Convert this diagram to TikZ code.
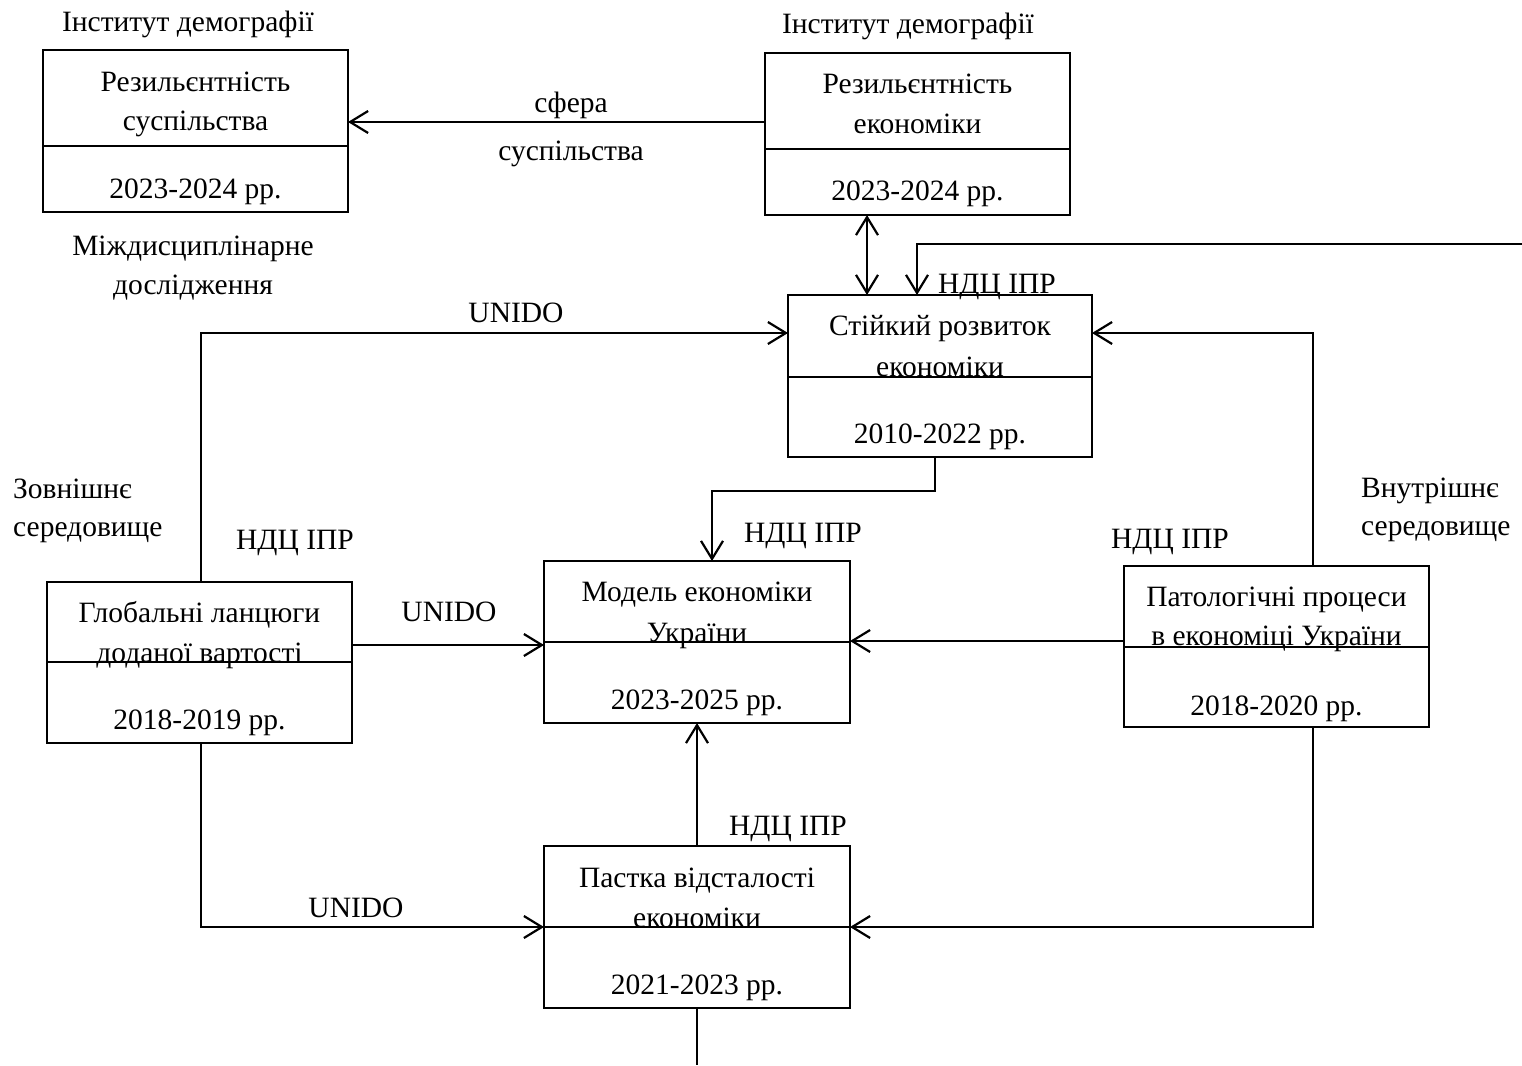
\documentclass[tikz,border=0pt]{standalone}
\usepackage{fontspec}
\setmainfont{Liberation Serif}
\usetikzlibrary{arrows.meta,calc}
\newcommand{\dgfs}{\fontsize{29.5}{35}\selectfont}
\begin{document}
\begin{tikzpicture}[x=1pt,y=-1pt,
  box/.style={draw, line width=1.4pt, inner sep=0pt, outer sep=0pt, anchor=north west},
  div/.style={line width=1.4pt},
  conn/.style={line width=2.2pt},
  arr/.style={conn, -{Straight Barb[length=18pt,width=22pt]}},
  darr/.style={conn, {Straight Barb[length=18pt,width=22pt]}-{Straight Barb[length=18pt,width=22pt]}},
  txt/.style={anchor=base, inner sep=0pt, font=\dgfs},
  ltxt/.style={anchor=base west, inner sep=0pt, font=\dgfs}]
\useasboundingbox (0,0) rectangle (1522,1065);

% boxes
\node[box, minimum width=305pt, minimum height=162pt] (b1) at (43,50) {};
\node[box, minimum width=305pt, minimum height=162pt] (b2) at (765,53) {};
\node[box, minimum width=304pt, minimum height=162pt] (b3) at (788,295) {};
\node[box, minimum width=306pt, minimum height=162pt] (b4) at (544,561) {};
\node[box, minimum width=305pt, minimum height=161pt] (b5) at (47,582) {};
\node[box, minimum width=305pt, minimum height=161pt] (b6) at (1124,566) {};
\node[box, minimum width=306pt, minimum height=162pt] (b7) at (544,846) {};

% dividers
\draw[div] ($(b1.north west)+(0,96)$) -- ($(b1.north east)+(0,96)$);
\draw[div] ($(b2.north west)+(0,96)$) -- ($(b2.north east)+(0,96)$);
\draw[div] ($(b3.north west)+(0,82)$) -- ($(b3.north east)+(0,82)$);
\draw[div] ($(b4.north west)+(0,81)$) -- ($(b4.north east)+(0,81)$);
\draw[div] ($(b5.north west)+(0,80)$) -- ($(b5.north east)+(0,80)$);
\draw[div] ($(b6.north west)+(0,81)$) -- ($(b6.north east)+(0,81)$);
\draw[div] ($(b7.north west)+(0,81)$) -- ($(b7.north east)+(0,81)$);

% box texts
\node[txt] (b1a) at (195.5,91) {Резильєнтність};
\node[txt] (b1b) at (195.5,130) {суспільства};
\node[txt] (b1c) at (195.5,198) {2023-2024 рр.};

\node[txt] (b2a) at (917.5,93) {Резильєнтність};
\node[txt] (b2b) at (917.5,133) {економіки};
\node[txt] (b2c) at (917.5,200) {2023-2024 рр.};

\node[txt] (b3a) at (940,335) {Стійкий розвиток};
\node[txt] (b3b) at (940,376) {економіки};
\node[txt] (b3c) at (940,443) {2010-2022 рр.};

\node[txt] (b4a) at (697,601) {Модель економіки};
\node[txt] (b4b) at (697,642) {України};
\node[txt] (b4c) at (697,709) {2023-2025 рр.};

\node[txt] (b5a) at (199.5,622) {Глобальні ланцюги};
\node[txt] (b5b) at (199.5,662) {доданої вартості};
\node[txt] (b5c) at (199.5,729) {2018-2019 рр.};

\node[txt] (b6a) at (1276.5,606) {Патологічні процеси};
\node[txt] (b6b) at (1276.5,645) {в економіці України};
\node[txt] (b6c) at (1276.5,715) {2018-2020 рр.};

\node[txt] (b7a) at (697,887) {Пастка відсталості};
\node[txt] (b7b) at (697,927) {економіки};
\node[txt] (b7c) at (697,994) {2021-2023 рр.};

% free labels
\node[txt] (l1) at (188,32) {Інститут демографії};
\node[txt] (l2) at (908,34) {Інститут демографії};
\node[txt] (l3) at (571,112) {сфера};
\node[txt] (l4) at (571,160) {суспільства};
\node[txt] (l5) at (193,255) {Міждисциплінарне};
\node[txt] (l6) at (193,294) {дослідження};
\node[txt] (l7) at (516,322) {UNIDO};
\node[txt] (l8) at (997,293) {НДЦ ІПР};
\node[ltxt] (l9) at (13,498) {Зовнішнє};
\node[ltxt] (l10) at (13,536) {середовище};
\node[txt] (l11) at (295,549) {НДЦ ІПР};
\node[txt] (l12) at (803,542) {НДЦ ІПР};
\node[txt] (l13) at (1170,548) {НДЦ ІПР};
\node[ltxt] (l14) at (1361,497) {Внутрішнє};
\node[ltxt] (l15) at (1361,535) {середовище};
\node[txt] (l16) at (449,621) {UNIDO};
\node[txt] (l17) at (788,835) {НДЦ ІПР};
\node[txt] (l18) at (356,917) {UNIDO};

% connectors
\coordinate (edge) at (1522,244);
\coordinate (bot) at (697,1065);
\draw[arr] ($(b2.north west)+(0,69)$) -- ($(b1.north east)+(0,72)$);
\draw[darr] ($(b2.south west)+(102,0)$) -- ($(b3.north west)+(79,0)$);
\draw[arr] (edge) -| ($(b3.north west)+(129,0)$);
\draw[arr] ($(b5.north west)+(154,0)$) |- ($(b3.north west)+(0,38)$);
\draw[arr] ($(b6.north west)+(189,0)$) |- ($(b3.north east)+(0,38)$);
\draw[arr] ($(b3.south west)+(147,0)$) -- ++(0,34) -| ($(b4.north west)+(168,0)$);
\draw[arr] ($(b5.north east)+(0,63)$) -- ($(b4.north west)+(0,84)$);
\draw[arr] ($(b6.north west)+(0,75)$) -- ($(b4.north east)+(0,80)$);
\draw[arr] ($(b7.north west)+(153,0)$) -- ($(b4.south west)+(153,0)$);
\draw[arr] ($(b5.south west)+(154,0)$) |- ($(b7.north west)+(0,81)$);
\draw[arr] ($(b6.south west)+(189,0)$) |- ($(b7.north east)+(0,81)$);
\draw[conn] ($(b7.south west)+(153,0)$) -- (bot);
\end{tikzpicture}
\end{document}
